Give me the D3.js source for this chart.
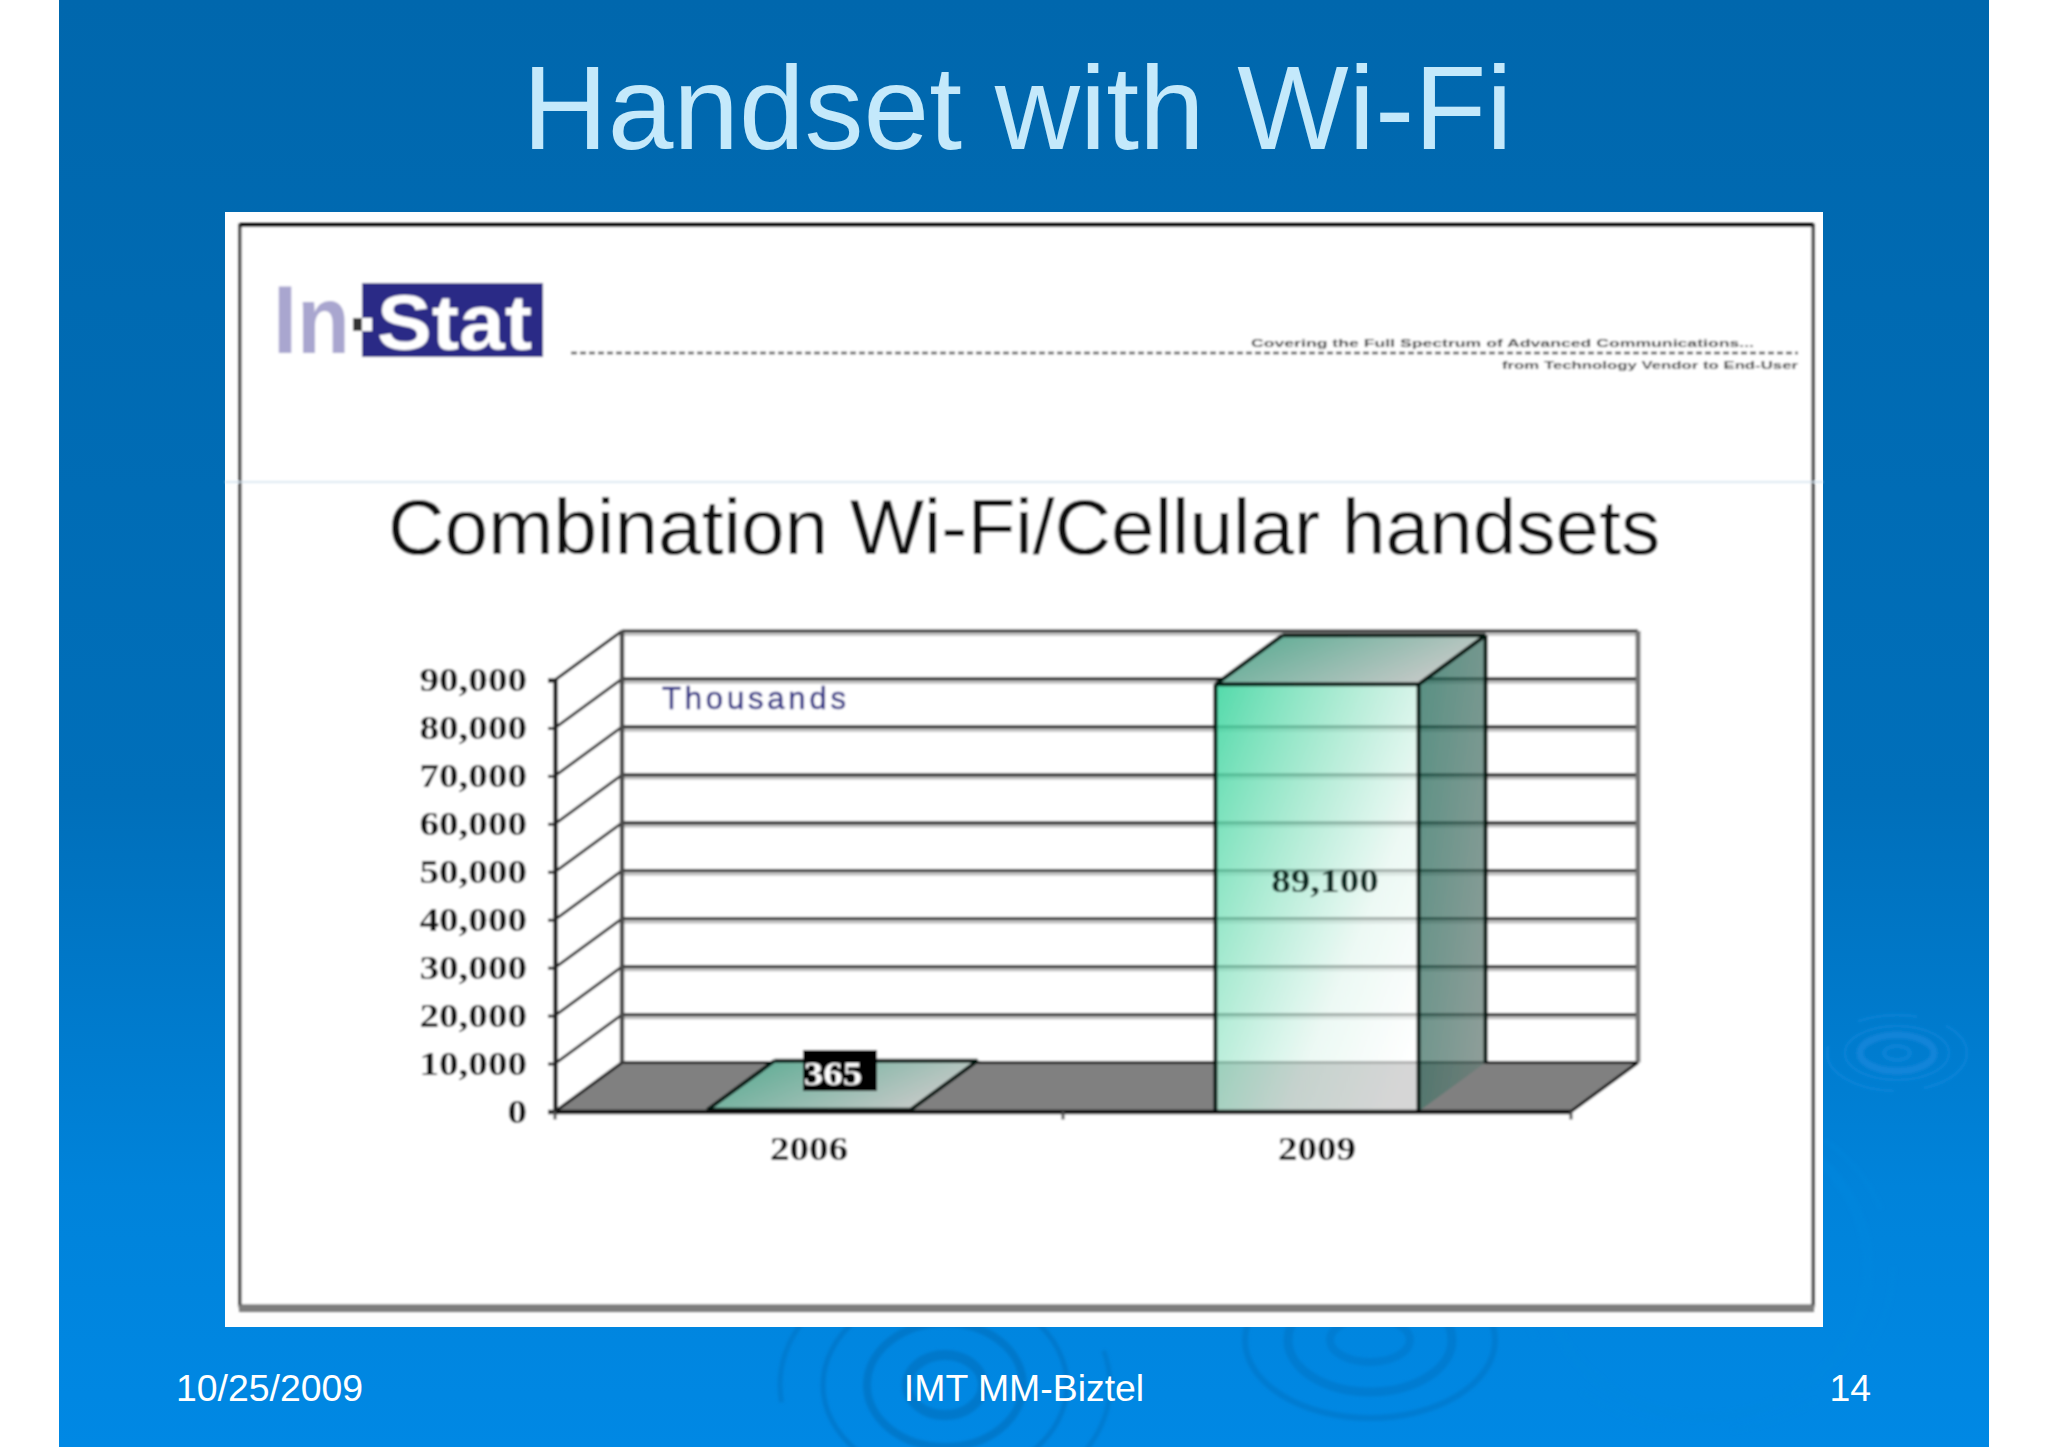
<!DOCTYPE html>
<html><head><meta charset="utf-8">
<style>html,body{margin:0;padding:0;background:#fff}svg{display:block}text{font-family:"Liberation Sans",Arial,sans-serif}</style>
<script src="https://cdn.jsdelivr.net/npm/d3@7/dist/d3.min.js"></script>
</head><body><div id="c"></div>
<script>
// ---- data ----
const categories = ["2006", "2009"];
const values = [365, 89100];
const valueLabels = ["365", "89,100"];
const yTicks = [0, 10000, 20000, 30000, 40000, 50000, 60000, 70000, 80000, 90000];
const slideTitle = "Handset with Wi-Fi";
const chartTitle = "Combination Wi-Fi/Cellular handsets";
const unitLabel = "Thousands";
const footerTexts = ["10/25/2009", "IMT MM-Biztel", "14"];
const taglines = ["Covering the Full Spectrum of Advanced Communications...", "from Technology Vendor to End-User"];

// ---- layout ----
const W = 2048, H = 1447;
const plot = {x0: 555, x1: 1571, y0: 1111.5, y1: 680, dx: 67, dy: -49};
const svg = d3.select("#c").append("svg").attr("width", W).attr("height", H).attr("viewBox", `0 0 ${W} ${H}`);
const defs = svg.append("defs");
function grad(id, x1, y1, x2, y2, stops){
  const g = defs.append("linearGradient").attr("id", id).attr("x1", x1).attr("y1", y1).attr("x2", x2).attr("y2", y2);
  stops.forEach(s => g.append("stop").attr("offset", s[0]).attr("stop-color", s[1]).attr("stop-opacity", s[2] === undefined ? 1 : s[2]));
}
grad("bg", 0, 0, 0, 1, [[0, "#0067ad"], [0.55, "#006fba"], [0.82, "#0083da"], [1, "#0088e4"]]);
grad("front", 0, 0, 1, 0.85, [[0, "#3fd6a0", .9], [0.35, "#8fe4c4", .78], [0.7, "#e4f6ef", .7], [1, "#ffffff", .68]]);
grad("side", 0, 0, 1, 1, [[0, "#1e6a58", .75], [1, "#6f7f7a", .75]]);
grad("top", 0, 0, 1, 0.4, [[0, "#4fa88d"], [1, "#c4c9c7"]]);
const blur = defs.append("filter").attr("id", "soft").attr("x", "-2%").attr("y", "-2%").attr("width", "104%").attr("height", "104%");
blur.append("feGaussianBlur").attr("stdDeviation", 0.8);
const blur2 = defs.append("filter").attr("id", "soft2");
blur2.append("feGaussianBlur").attr("stdDeviation", 1.6);
defs.append("clipPath").attr("id", "slideClip").append("rect").attr("x", 59).attr("y", 0).attr("width", 1930).attr("height", H);

// ---- slide ----
svg.append("rect").attr("width", W).attr("height", H).attr("fill", "#ffffff");
svg.append("rect").attr("x", 59).attr("y", 0).attr("width", 1930).attr("height", H).attr("fill", "url(#bg)");
const rip = svg.append("g").attr("clip-path", "url(#slideClip)").append("g").attr("filter", "url(#soft2)").attr("fill", "none");
function rings(cx, cy, list, col){
  list.forEach(r => rip.append("ellipse").attr("cx", cx).attr("cy", cy).attr("rx", r[0]).attr("ry", r[1])
    .attr("stroke", col).attr("stroke-width", r[2]).attr("stroke-opacity", r[3]).attr("stroke-dasharray", r[4] || null));
}
rings(1897, 1053, [[13, 7, 4, .5], [37, 18, 7, .6], [52, 27, 2.5, .5], [70, 38, 3, .4, "60 30 90 40"]], "#1a8be0");
rings(1705, 1267, [[163, 150, 10, .4], [188, 165, 5, .25, "90 70"]], "#0f86de");
rings(945, 1385, [[38, 30, 10, .7], [78, 62, 8, .7], [122, 95, 5, .6], [165, 125, 5, .5, "160 60"]], "#0072c2");
rings(1370, 1340, [[40, 22, 8, .5], [82, 52, 9, .6], [125, 78, 6, .6]], "#0074c6");

svg.append("text").attr("x", 1017.5).attr("y", 149).attr("text-anchor", "middle").attr("font-size", 118)
  .attr("fill", "#c4e9fb").text(slideTitle);

const fx = [[176, "start"], [1024, "middle"], [1871, "end"]];
svg.selectAll("text.foot").data(footerTexts).join("text").attr("class", "foot")
  .attr("x", (d, i) => fx[i][0]).attr("y", 1401).attr("text-anchor", (d, i) => fx[i][1])
  .attr("font-size", 37.4).attr("fill", "#ffffff").text(d => d);

// ---- pasted picture panel ----
svg.append("rect").attr("x", 225).attr("y", 212).attr("width", 1598).attr("height", 1115).attr("fill", "#fefefe");
const pic = svg.append("g").attr("filter", "url(#soft)");
pic.append("rect").attr("x", 240).attr("y", 225).attr("width", 1573).attr("height", 1081).attr("fill", "#ffffff").attr("stroke", "#333").attr("stroke-width", 3);
pic.append("rect").attr("x", 239).attr("y", 1305).attr("width", 1575).attr("height", 7).attr("fill", "#7d7d7d");
pic.append("line").attr("x1", 240).attr("x2", 1813).attr("y1", 225).attr("y2", 225).attr("stroke", "#000").attr("stroke-width", 4);
pic.append("line").attr("x1", 225).attr("x2", 1823).attr("y1", 482).attr("y2", 482).attr("stroke", "#cfe0ee").attr("stroke-width", 1.5);

// logo
pic.append("text").attr("x", 273).attr("y", 353).attr("font-size", 96).attr("font-weight", "bold").attr("fill", "#a9a6cf")
  .attr("textLength", 77).attr("lengthAdjust", "spacingAndGlyphs").text("In");
pic.append("rect").attr("x", 362).attr("y", 283).attr("width", 181).attr("height", 74).attr("fill", "#2b2a86");
pic.append("rect").attr("x", 353).attr("y", 318).attr("width", 9).attr("height", 13).attr("fill", "#333");
pic.append("rect").attr("x", 362).attr("y", 318).attr("width", 10).attr("height", 13).attr("fill", "#fff");
pic.append("text").attr("x", 377).attr("y", 349).attr("font-size", 78).attr("font-weight", "bold").attr("fill", "#fff")
  .attr("textLength", 155).attr("lengthAdjust", "spacingAndGlyphs").text("Stat");
pic.append("line").attr("x1", 571).attr("x2", 1798).attr("y1", 353).attr("y2", 353).attr("stroke", "#444").attr("stroke-width", 2.4).attr("stroke-dasharray", "6 3");
pic.append("text").attr("x", 1251).attr("y", 347).attr("font-size", 10).attr("font-weight", "bold").attr("fill", "#333")
  .attr("textLength", 503).attr("lengthAdjust", "spacingAndGlyphs").text(taglines[0]);
pic.append("text").attr("x", 1502).attr("y", 369).attr("font-size", 10).attr("font-weight", "bold").attr("fill", "#333")
  .attr("textLength", 296).attr("lengthAdjust", "spacingAndGlyphs").text(taglines[1]);

pic.append("text").attr("x", 388).attr("y", 554).attr("font-size", 78.4).attr("fill", "#111").text(chartTitle);

// ---- 3D bar chart ----
const y = d3.scaleLinear().domain([0, 90000]).range([plot.y0, plot.y1]);
const x = d3.scaleBand().domain(categories).range([plot.x0, plot.x1]).paddingInner(0.6).paddingOuter(0.3);
const g = pic.append("g");
const poly = pts => d3.line()(pts) + "Z";
const bx = plot.x0 + plot.dx, bxr = plot.x1 + plot.dx;

// floor
g.append("path").attr("d", poly([[plot.x0, y(0)], [bx, y(0) + plot.dy], [bxr, y(0) + plot.dy], [plot.x1, y(0)]]))
  .attr("fill", "#808080");
// grid on the back wall, with its pale shadow
g.selectAll("line.shadow").data(yTicks.slice(1)).join("line").attr("class", "shadow")
  .attr("x1", bx).attr("x2", bxr).attr("y1", d => y(d) + plot.dy + 3.5).attr("y2", d => y(d) + plot.dy + 3.5)
  .attr("stroke", "#bdbdbd").attr("stroke-width", 2.5);
g.selectAll("line.back").data(yTicks).join("line").attr("class", "back")
  .attr("x1", bx).attr("x2", bxr).attr("y1", d => y(d) + plot.dy).attr("y2", d => y(d) + plot.dy)
  .attr("stroke", "#111").attr("stroke-width", 3.2);
// grid on the side wall
g.selectAll("line.diag").data(yTicks).join("line").attr("class", "diag")
  .attr("x1", plot.x0).attr("x2", bx).attr("y1", d => y(d)).attr("y2", d => y(d) + plot.dy)
  .attr("stroke", "#111").attr("stroke-width", 2.8);
// wall edges
g.append("line").attr("x1", bx).attr("x2", bx).attr("y1", y(90000) + plot.dy).attr("y2", y(0) + plot.dy).attr("stroke", "#4a4a4a").attr("stroke-width", 4.5);
g.append("line").attr("x1", bxr).attr("x2", bxr).attr("y1", y(90000) + plot.dy).attr("y2", y(0) + plot.dy).attr("stroke", "#777").attr("stroke-width", 5);
g.append("line").attr("x1", plot.x1).attr("x2", bxr).attr("y1", y(0)).attr("y2", y(0) + plot.dy).attr("stroke", "#111").attr("stroke-width", 3.2);

// bars
const bars = g.selectAll("g.bar").data(categories.map((c, i) => ({c, v: values[i], l: valueLabels[i]}))).join("g").attr("class", "bar");
bars.each(function(d){
  const s = d3.select(this), l = x(d.c), r = l + x.bandwidth(), t = y(d.v), b = y(0), dx = plot.dx, dy = plot.dy;
  s.append("path").attr("d", poly([[r, b], [r + dx, b + dy], [r + dx, t + dy], [r, t]])).attr("fill", "url(#side)");
  s.append("path").attr("d", poly([[l, b], [r, b], [r, t], [l, t]])).attr("fill", "url(#front)");
  s.append("path").attr("d", poly([[l, t], [r, t], [r + dx, t + dy], [l + dx, t + dy]])).attr("fill", "url(#top)");
  const edges = [[[l, b], [l, t]], [[r, b], [r, t]], [[l, t], [r, t]], [[r, t], [r + dx, t + dy]], [[r + dx, t + dy], [r + dx, b + dy]], [[l, t], [l + dx, t + dy]], [[l + dx, t + dy], [r + dx, t + dy]]];
  edges.forEach(e => s.append("path").attr("d", d3.line()(e)).attr("fill", "none").attr("stroke", "#061410").attr("stroke-width", 4));
});

// front axes
const yAxis = g.append("g").attr("transform", `translate(${plot.x0},0)`)
  .call(d3.axisLeft(y).tickValues(yTicks).tickFormat(d3.format(",")).tickSize(7).tickPadding(21));
yAxis.select(".domain").attr("stroke", "#222").attr("stroke-width", 4.5);
yAxis.selectAll(".tick line").attr("stroke", "#222").attr("stroke-width", 3);
const xAxis = g.append("g").attr("transform", `translate(0,${plot.y0})`)
  .call(d3.axisBottom(x).tickSize(0).tickPadding(24));
xAxis.select(".domain").attr("stroke", "#0a0a0a").attr("stroke-width", 4.5);
g.selectAll("line.edgeTick").data([0, 1, 2]).join("line").attr("class", "edgeTick")
  .attr("x1", i => plot.x0 + i * x.step()).attr("x2", i => plot.x0 + i * x.step())
  .attr("y1", plot.y0).attr("y2", plot.y0 + 8).attr("stroke", "#555").attr("stroke-width", 3);
function stretch(sel){
  sel.attr("font-size", 34).attr("font-weight", "bold").attr("fill", "#0d0d0d")
    .style("font-family", "'Liberation Serif',serif")
    .each(function(){ this.setAttribute("textLength", this.getComputedTextLength() * 1.15); this.setAttribute("lengthAdjust", "spacingAndGlyphs"); });
}
stretch(yAxis.selectAll(".tick text"));
stretch(xAxis.selectAll(".tick text"));

// value labels: the small one sits on the floor on a black plate
const smallCx = x(categories[0]) + x.bandwidth() / 2 + 31;
g.append("rect").attr("x", smallCx - 37).attr("y", 1050).attr("width", 74).attr("height", 41).attr("fill", "#000");
const labelDx = [24, 8], labelY = [1085, 892];
const lab = g.selectAll("text.val").data(valueLabels).join("text").attr("class", "val")
  .attr("x", (d, i) => x(categories[i]) + x.bandwidth() / 2 + labelDx[i]).attr("y", (d, i) => labelY[i])
  .attr("text-anchor", "middle").text(d => d);
stretch(lab);
lab.attr("fill", (d, i) => i === 0 ? "#fff" : "#0c2a22");

g.append("text").attr("x", 662).attr("y", 709).attr("font-size", 31).attr("fill", "#2c2c84").attr("stroke", "#2c2c84").attr("stroke-width", 0.5)
  .attr("textLength", 184).attr("lengthAdjust", "spacing").text(unitLabel);
</script></body></html>
